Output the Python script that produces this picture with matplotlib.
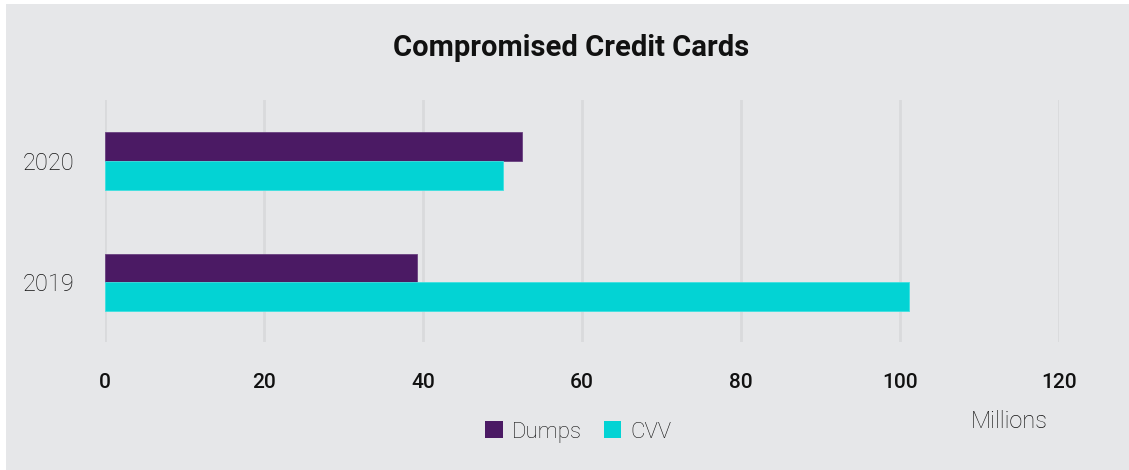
import matplotlib.pyplot as plt
from matplotlib.patches import Rectangle, Patch
import numpy as np

years = ['2019', '2020']
dumps = [39.2, 52.5]
cvv = [101.1, 50.0]
xticks = [0, 20, 40, 60, 80, 100, 120]

bg = '#e6e7e9'
purple = '#4b1a64'
cyan = '#03d3d4'

plt.rcParams['font.family'] = ['Roboto', 'DejaVu Sans']

fig = plt.figure(figsize=(11.29, 4.70), dpi=100, facecolor='white')
# grey card with a thin white margin at the top and left
fig.patches.append(Rectangle((6 / 1129, 0), 1, 1 - 4 / 470, transform=fig.transFigure,
                             facecolor=bg, edgecolor='none', zorder=-5))

ax = fig.add_axes([105 / 1129, 1 - 342 / 470, (1059 - 105) / 1129, (342 - 100) / 470])
ax.set_facecolor(bg)

y = np.arange(len(years))
h = 0.236
ax.barh(y + h / 2, dumps, height=h, color=purple, edgecolor='#6a4180', linewidth=0.6, zorder=3)
ax.barh(y - h / 2, cvv, height=h, color=cyan, edgecolor='#3fe0e0', linewidth=0.6, zorder=3)

ax.set_xlim(0, 120)
ax.set_ylim(-0.49, 1.5)
ax.set_xticks(xticks)
ax.set_xticklabels([str(t) for t in xticks], fontsize=15, fontweight='medium', color='#111111')
ax.set_yticks(y)
ax.set_yticklabels(years, fontsize=17, fontweight='light', color='#111111')
ax.tick_params(axis='x', length=0, pad=22)
ax.tick_params(axis='y', length=0, pad=22)
ax.grid(axis='x', color='#d9dadc', linewidth=2, zorder=0)
ax.set_axisbelow(True)
for s in ax.spines.values():
    s.set_visible(False)

fig.text(571 / 1129, 1 - 48 / 470, 'Compromised Credit Cards', ha='center', va='center',
         fontsize=21, fontweight='bold', color='#111111')

handles = [Patch(facecolor=purple, label='Dumps'), Patch(facecolor=cyan, label='CVV')]
leg = fig.legend(handles=handles, loc='center', bbox_to_anchor=(578 / 1129, 1 - 432 / 470), ncol=2,
                 frameon=False, handlelength=0.8, handleheight=0.8, handletextpad=0.4,
                 columnspacing=1.0, prop={'weight': 'light', 'size': 16})
for t in leg.get_texts():
    t.set_color('#111111')

fig.text(1009 / 1129, 1 - 422 / 470, 'Millions', ha='center', va='center',
         fontsize=17, fontweight='light', color='#111111')

fig.savefig('out.png', dpi=100, facecolor=fig.get_facecolor())
